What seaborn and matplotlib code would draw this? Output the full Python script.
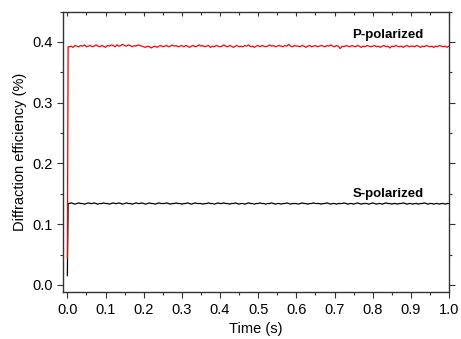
import matplotlib
matplotlib.use("Agg")
import matplotlib.pyplot as plt
import numpy as np
import pandas as pd
import seaborn as sns
from matplotlib.ticker import MultipleLocator

# time axis: start point, end of the rise, then the steady sampling
t_start = [0.0, 0.002]
n_steady = 200
t_steady = np.linspace(0.005, 1.0, n_steady)

# P-polarized (red)
p_start = [0.044, 0.392]
p_steady = [
    0.392, 0.393, 0.391, 0.394, 0.393, 0.392, 0.394, 0.393, 0.395, 0.392,
    0.393, 0.394, 0.392, 0.393, 0.395, 0.393, 0.392, 0.394, 0.393, 0.391,
    0.394, 0.393, 0.395, 0.394, 0.392, 0.395, 0.393, 0.394, 0.396, 0.394,
    0.393, 0.395, 0.394, 0.392, 0.394, 0.393, 0.395, 0.394, 0.393, 0.392,
    0.391, 0.393, 0.392, 0.390, 0.392, 0.393, 0.391, 0.393, 0.394, 0.392,
    0.393, 0.394, 0.392, 0.393, 0.395, 0.393, 0.394, 0.392, 0.393, 0.394,
    0.392, 0.394, 0.393, 0.391, 0.393, 0.394, 0.392, 0.393, 0.395, 0.393,
    0.394, 0.392, 0.393, 0.394, 0.391, 0.393, 0.392, 0.394, 0.393, 0.392,
    0.393, 0.395, 0.393, 0.392, 0.394, 0.393, 0.391, 0.393, 0.394, 0.392,
    0.393, 0.392, 0.394, 0.393, 0.395, 0.392, 0.393, 0.391, 0.393, 0.394,
    0.392, 0.394, 0.393, 0.392, 0.393, 0.395, 0.393, 0.394, 0.392, 0.393,
    0.394, 0.393, 0.392, 0.394, 0.393, 0.396, 0.393, 0.392, 0.394, 0.393,
    0.393, 0.392, 0.394, 0.393, 0.391, 0.393, 0.394, 0.392, 0.393, 0.394,
    0.392, 0.393, 0.394, 0.393, 0.392, 0.394, 0.393, 0.395, 0.393, 0.392,
    0.394, 0.393, 0.389, 0.393, 0.392, 0.394, 0.393, 0.392, 0.394, 0.393,
    0.392, 0.394, 0.393, 0.391, 0.393, 0.392, 0.394, 0.393, 0.392, 0.393,
    0.394, 0.392, 0.393, 0.391, 0.393, 0.394, 0.392, 0.393, 0.390, 0.393,
    0.392, 0.394, 0.393, 0.392, 0.393, 0.391, 0.393, 0.394, 0.392, 0.393,
    0.393, 0.392, 0.394, 0.393, 0.391, 0.393, 0.392, 0.394, 0.393, 0.392,
    0.393, 0.391, 0.393, 0.392, 0.394, 0.393, 0.392, 0.393, 0.391, 0.393,
]

# S-polarized (black)
s_start = [0.015, 0.134]
s_steady = [
    0.134, 0.135, 0.134, 0.133, 0.134, 0.135, 0.134, 0.134, 0.133, 0.134,
    0.135, 0.134, 0.134, 0.135, 0.134, 0.133, 0.134, 0.134, 0.135, 0.134,
    0.134, 0.133, 0.134, 0.135, 0.134, 0.134, 0.135, 0.134, 0.133, 0.134,
    0.135, 0.134, 0.134, 0.133, 0.134, 0.135, 0.134, 0.134, 0.135, 0.134,
    0.133, 0.134, 0.135, 0.134, 0.134, 0.133, 0.134, 0.135, 0.134, 0.134,
    0.134, 0.135, 0.134, 0.133, 0.134, 0.134, 0.135, 0.134, 0.134, 0.133,
    0.134, 0.134, 0.135, 0.134, 0.133, 0.134, 0.135, 0.134, 0.134, 0.134,
    0.133, 0.134, 0.134, 0.135, 0.134, 0.134, 0.133, 0.134, 0.135, 0.134,
    0.134, 0.135, 0.134, 0.134, 0.133, 0.134, 0.134, 0.135, 0.134, 0.133,
    0.134, 0.134, 0.133, 0.134, 0.135, 0.134, 0.134, 0.133, 0.134, 0.134,
    0.135, 0.134, 0.134, 0.133, 0.134, 0.134, 0.135, 0.134, 0.133, 0.134,
    0.134, 0.133, 0.134, 0.134, 0.135, 0.134, 0.133, 0.134, 0.134, 0.134,
    0.133, 0.134, 0.135, 0.134, 0.134, 0.133, 0.134, 0.134, 0.135, 0.134,
    0.134, 0.134, 0.133, 0.134, 0.134, 0.135, 0.134, 0.133, 0.134, 0.134,
    0.133, 0.134, 0.134, 0.134, 0.135, 0.134, 0.133, 0.134, 0.134, 0.133,
    0.134, 0.135, 0.134, 0.133, 0.134, 0.134, 0.134, 0.133, 0.134, 0.135,
    0.134, 0.133, 0.134, 0.134, 0.133, 0.134, 0.135, 0.134, 0.134, 0.133,
    0.134, 0.134, 0.133, 0.134, 0.134, 0.135, 0.134, 0.133, 0.134, 0.134,
    0.133, 0.134, 0.134, 0.133, 0.134, 0.134, 0.135, 0.134, 0.133, 0.134,
    0.134, 0.133, 0.134, 0.134, 0.133, 0.134, 0.134, 0.133, 0.134, 0.134,
]

labels = ["P-polarized", "S-polarized"]
colors = {"P-polarized": "#ff0000", "S-polarized": "#000000"}


def main() -> None:
    sns.set_style("ticks")
    plt.rcParams["font.family"] = ["Liberation Sans", "DejaVu Sans"]
    plt.rcParams["text.color"] = "black"
    plt.rcParams["axes.labelcolor"] = "black"
    plt.rcParams["xtick.labelcolor"] = "black"
    plt.rcParams["ytick.labelcolor"] = "black"

    time = np.concatenate([t_start, t_steady])
    df = pd.concat([
        pd.DataFrame({"time": time, "eff": s_start + s_steady, "pol": labels[1]}),
        pd.DataFrame({"time": time, "eff": p_start + p_steady, "pol": labels[0]}),
    ])

    fig = plt.figure(figsize=(4.61, 3.39), dpi=100)
    ax = fig.add_axes([0.137, 0.138, 0.837, 0.828])

    # black first so the red rise sits on top of it, as in the original
    sns.lineplot(data=df, x="time", y="eff", hue="pol", palette=colors,
                 hue_order=[labels[1], labels[0]], linewidth=0.9,
                 legend=False, ax=ax, estimator=None, sort=False)

    ax.set_xlim(-0.011, 1.0)
    ax.set_ylim(-0.012, 0.45)
    ax.xaxis.set_major_locator(MultipleLocator(0.1))
    ax.xaxis.set_minor_locator(MultipleLocator(0.05))
    ax.yaxis.set_major_locator(MultipleLocator(0.1))
    ax.yaxis.set_minor_locator(MultipleLocator(0.05))
    ax.tick_params(which="both", direction="out", labelsize=10.5, width=0.8,
                   color="#333333", right=True)
    ax.tick_params(which="major", length=4)
    ax.tick_params(which="minor", length=2.5)

    # top spine carries short inward ticks
    top = ax.secondary_xaxis("top")
    top.xaxis.set_major_locator(MultipleLocator(0.1))
    top.xaxis.set_minor_locator(MultipleLocator(0.05))
    top.tick_params(which="both", direction="in", labeltop=False,
                    width=0.8, color="#333333")
    top.tick_params(which="major", length=3)
    top.tick_params(which="minor", length=2)
    top.spines["top"].set_visible(False)

    ax.set_xlabel("Time (s)", fontsize=10.5)
    ax.set_ylabel("Diffraction efficiency (%)", fontsize=10.5)
    for s in ax.spines.values():
        s.set_visible(True)
        s.set_linewidth(1.0)
        s.set_color("#333333")

    ax.text(0.84, 0.411, labels[0], fontsize=9.5, fontweight="bold",
            ha="center", va="center")
    ax.text(0.84, 0.150, labels[1], fontsize=9.5, fontweight="bold",
            ha="center", va="center")

    fig.savefig("out.png", dpi=100)


if __name__ == "__main__":
    main()
